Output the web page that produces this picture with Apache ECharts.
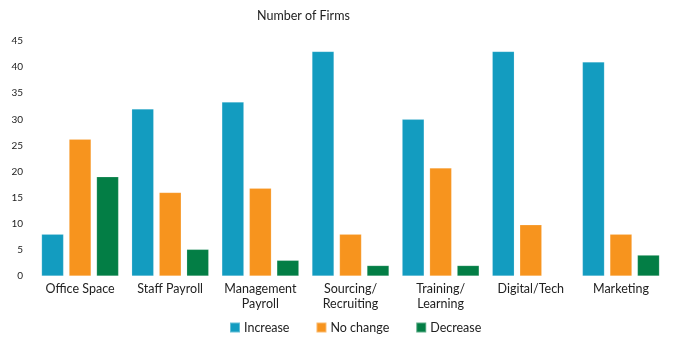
<!DOCTYPE html>
<html>
<head>
<meta charset="utf-8">
<script src="https://cdn.jsdelivr.net/npm/echarts@6/dist/echarts.min.js"></script>
<style>html,body{margin:0;padding:0;background:#fff}#c{width:674px;height:345px}</style>
</head>
<body>
<div id="c"></div>
<script>
const categories = ['Office Space', 'Staff Payroll', 'Management\nPayroll', 'Sourcing/\nRecruiting', 'Training/\nLearning', 'Digital/Tech', 'Marketing'];
const increase = [8, 32, 33.3, 43, 30, 43, 41];
const noChange = [26.2, 16, 16.8, 8, 20.7, 9.8, 8];
const decrease = [19, 5.1, 3, 2, 2, 0, 4];
const yTicks = [0, 5, 10, 15, 20, 25, 30, 35, 40, 45];

const font = 'Lato, "Open Sans", sans-serif';
const chart = echarts.init(document.getElementById('c'));
const mk = (name, data, color) => ({
  name, type: 'bar', data, barWidth: 22, barGap: '25%',
  itemStyle: { color, borderColor: 'rgba(255,255,255,0.35)', borderWidth: 0.5 }
});
chart.setOption({
  animation: false,
  title: { text: 'Number of Firms', left: 257, top: 9, padding: 0,
    textStyle: { fontFamily: font, fontSize: 12.5, fontWeight: 'normal', color: '#222' } },
  grid: { left: 35, right: 8, top: 41, bottom: 69, containLabel: false },
  legend: {
    left: 229, top: 321, padding: 0, itemWidth: 10, itemHeight: 10, itemGap: 26, icon: 'rect',
    textStyle: { fontFamily: font, fontSize: 12.5, color: '#222', padding: [0, 0, 0, -1] },
    data: ['Increase', 'No change', 'Decrease']
  },
  xAxis: {
    type: 'category', data: categories,
    axisLine: { show: false }, axisTick: { show: false },
    axisLabel: { fontFamily: font, fontSize: 12.5, color: '#222', margin: 5, lineHeight: 15, interval: 0 }
  },
  yAxis: {
    type: 'value', min: yTicks[0], max: yTicks[yTicks.length - 1], interval: 5,
    splitLine: { show: false }, axisLine: { show: false }, axisTick: { show: false },
    axisLabel: { fontFamily: font, fontSize: 10, color: '#222', margin: 12 }
  },
  series: [
    mk('Increase', increase, '#139CC0'),
    mk('No change', noChange, '#F7941E'),
    mk('Decrease', decrease, '#037E45')
  ]
});
</script>
</body>
</html>
